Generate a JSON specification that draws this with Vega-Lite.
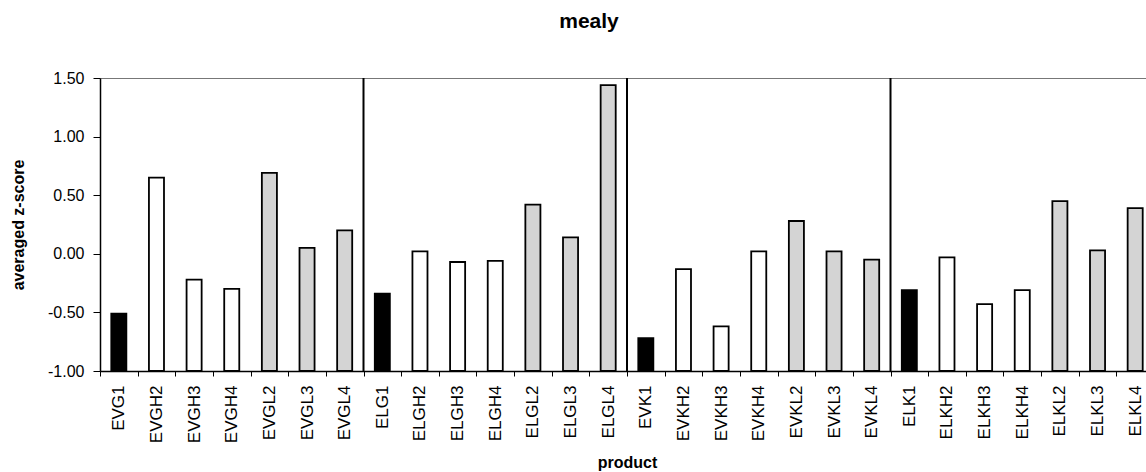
{
  "$schema": "https://vega.github.io/schema/vega-lite/v6.json",
  "autosize": {"type": "none"},
  "padding": {"left": 100, "top": 78, "right": 0, "bottom": 101},
  "width": 1046,
  "height": 293,
  "background": "white",
  "title": {
    "text": "mealy",
    "font": "Liberation Sans",
    "fontSize": 21,
    "fontWeight": "bold",
    "color": "black",
    "anchor": "middle",
    "dx": -34,
    "offset": 38
  },
  "config": {
    "view": {"stroke": "#777777", "strokeWidth": 1},
    "font": "Liberation Sans"
  },
  "datasets": {
    "bars": [
      {"product": "EVG1", "kind": "control", "z": -0.51},
      {"product": "EVGH2", "kind": "H", "z": 0.65},
      {"product": "EVGH3", "kind": "H", "z": -0.22},
      {"product": "EVGH4", "kind": "H", "z": -0.30},
      {"product": "EVGL2", "kind": "L", "z": 0.69},
      {"product": "EVGL3", "kind": "L", "z": 0.05},
      {"product": "EVGL4", "kind": "L", "z": 0.20},
      {"product": "ELG1", "kind": "control", "z": -0.34},
      {"product": "ELGH2", "kind": "H", "z": 0.02},
      {"product": "ELGH3", "kind": "H", "z": -0.07},
      {"product": "ELGH4", "kind": "H", "z": -0.06},
      {"product": "ELGL2", "kind": "L", "z": 0.42},
      {"product": "ELGL3", "kind": "L", "z": 0.14},
      {"product": "ELGL4", "kind": "L", "z": 1.44},
      {"product": "EVK1", "kind": "control", "z": -0.72},
      {"product": "EVKH2", "kind": "H", "z": -0.13},
      {"product": "EVKH3", "kind": "H", "z": -0.62},
      {"product": "EVKH4", "kind": "H", "z": 0.02},
      {"product": "EVKL2", "kind": "L", "z": 0.28},
      {"product": "EVKL3", "kind": "L", "z": 0.02},
      {"product": "EVKL4", "kind": "L", "z": -0.05},
      {"product": "ELK1", "kind": "control", "z": -0.31},
      {"product": "ELKH2", "kind": "H", "z": -0.03},
      {"product": "ELKH3", "kind": "H", "z": -0.43},
      {"product": "ELKH4", "kind": "H", "z": -0.31},
      {"product": "ELKL2", "kind": "L", "z": 0.45},
      {"product": "ELKL3", "kind": "L", "z": 0.03},
      {"product": "ELKL4", "kind": "L", "z": 0.39}
    ],
    "separators": [
      {"product": "ELG1"},
      {"product": "EVK1"},
      {"product": "ELK1"}
    ]
  },
  "layer": [
    {
      "data": {"name": "bars"},
      "mark": {"type": "bar", "stroke": "black", "strokeWidth": 1.8, "width": {"band": 0.4}},
      "encoding": {
        "x": {
          "field": "product",
          "type": "nominal",
          "scale": {
            "domain": ["EVG1", "EVGH2", "EVGH3", "EVGH4", "EVGL2", "EVGL3", "EVGL4", "ELG1", "ELGH2", "ELGH3", "ELGH4", "ELGL2", "ELGL3", "ELGL4", "EVK1", "EVKH2", "EVKH3", "EVKH4", "EVKL2", "EVKL3", "EVKL4", "ELK1", "ELKH2", "ELKH3", "ELKH4", "ELKL2", "ELKL3", "ELKL4"],
            "range": [0, 1054],
            "paddingInner": 0,
            "paddingOuter": 0
          },
          "axis": {
            "title": "product",
            "titleFont": "Liberation Sans",
            "titleFontSize": 16,
            "titleFontWeight": "bold",
            "titleColor": "black",
            "titleBaseline": "top",
            "titleY": 83,
            "titleX": 527,
            "labelAngle": -90,
            "labelAlign": "right",
            "labelBaseline": "middle",
            "labelFont": "Liberation Sans",
            "labelFontSize": 17,
            "labelColor": "black",
            "labelPadding": 9,
            "tickBand": "extent",
            "tickSize": 5,
            "tickColor": "black",
            "domainColor": "black",
            "domainWidth": 1.5,
            "grid": false
          }
        },
        "y": {
          "field": "z",
          "type": "quantitative",
          "scale": {"domain": [-1, 1.5], "nice": false, "zero": false},
          "axis": {
            "title": "averaged z-score",
            "titleFont": "Liberation Sans",
            "titleFontSize": 16,
            "titleFontWeight": "bold",
            "titleColor": "black",
            "titleX": -74,
            "values": [-1, -0.5, 0, 0.5, 1, 1.5],
            "labelExpr": "replace(format(datum.value, '.2f'), '\u2212', '-')",
            "labelFont": "Liberation Sans",
            "labelFontSize": 16,
            "labelColor": "black",
            "labelPadding": 9,
            "tickSize": 7,
            "tickColor": "black",
            "domainColor": "black",
            "domainWidth": 1.5,
            "grid": false
          }
        },
        "y2": {"datum": -1},
        "color": {
          "field": "kind",
          "type": "nominal",
          "scale": {"domain": ["control", "H", "L"], "range": ["#000000", "#ffffff", "#d4d4d4"]},
          "legend": null
        }
      }
    },
    {
      "data": {"name": "separators"},
      "mark": {"type": "rule", "color": "black", "strokeWidth": 2},
      "encoding": {
        "x": {"field": "product", "type": "nominal", "bandPosition": 0}
      }
    }
  ]
}
